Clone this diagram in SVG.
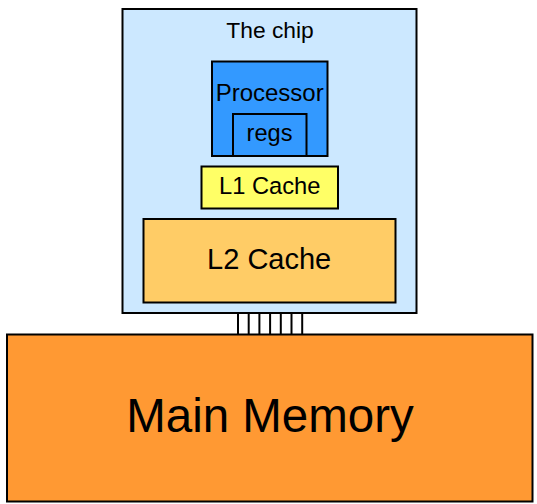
<svg xmlns="http://www.w3.org/2000/svg" width="537" height="504" viewBox="0 0 537 504">
<style>
.box{stroke:#000;stroke-width:2}
text{font-family:"Liberation Sans",Arial,sans-serif;fill:#000;text-anchor:middle}
.bus{stroke:#000;stroke-width:2}
</style>
<rect width="537" height="504" fill="#fff"/>
<g id="connectors">
<line class="bus" x1="238" y1="313" x2="238" y2="334"/>
<line class="bus" x1="248.7" y1="313" x2="248.7" y2="334"/>
<line class="bus" x1="259.4" y1="313" x2="259.4" y2="334"/>
<line class="bus" x1="270.1" y1="313" x2="270.1" y2="334"/>
<line class="bus" x1="280.8" y1="313" x2="280.8" y2="334"/>
<line class="bus" x1="291.5" y1="313" x2="291.5" y2="334"/>
<line class="bus" x1="302.2" y1="313" x2="302.2" y2="334"/>
</g>
<g id="chip">
<rect class="box" x="122.5" y="9" width="294" height="304" fill="#cce8ff" stroke-width="2.5"/>
<text x="270" y="38.3" font-size="22.8">The chip</text>
</g>
<g id="processor">
<rect class="box" x="212" y="61.5" width="115.5" height="94.5" fill="#3399ff"/>
<text x="269.7" y="101" font-size="24">Processor</text>
</g>
<g id="regs">
<rect class="box" x="233" y="114" width="73.5" height="42" fill="#3399ff"/>
<text x="269.5" y="140.7" font-size="23.6">regs</text>
</g>
<g id="l1">
<rect class="box" x="201.5" y="166.5" width="136.5" height="42" fill="#ffff66"/>
<text x="269.7" y="194" font-size="23.7">L1 Cache</text>
</g>
<g id="l2">
<rect class="box" x="143.5" y="219" width="252" height="83.5" fill="#ffcc66"/>
<text x="269.2" y="269.3" font-size="29">L2 Cache</text>
</g>
<g id="main-memory">
<rect class="box" x="7" y="334.5" width="525.5" height="167" fill="#ff9933"/>
<text x="270" y="432.3" font-size="47.5">Main Memory</text>
</g>
</svg>
